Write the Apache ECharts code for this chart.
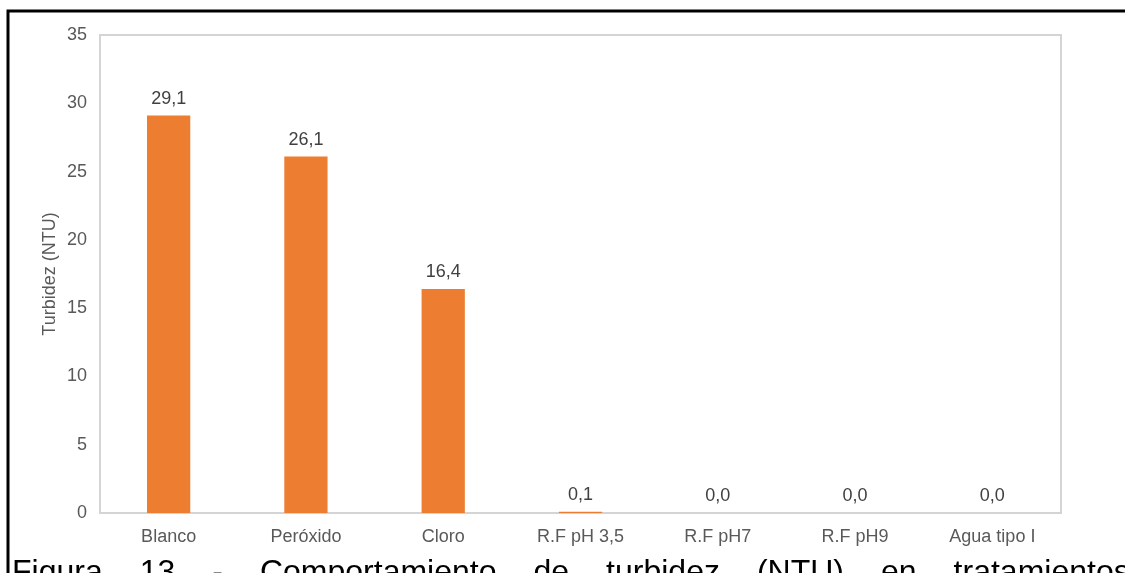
<!DOCTYPE html>
<html>
<head>
<meta charset="utf-8">
<script src="https://cdn.jsdelivr.net/npm/echarts@6/dist/echarts.min.js"></script>
<style>
  html, body { margin: 0; padding: 0; background: #fff; }
  #chart { width: 1125px; height: 573px; }
</style>
</head>
<body>
<div id="chart"></div>
<script>
// Turbidez por tratamiento
const categories = ['Blanco', 'Peróxido', 'Cloro', 'R.F pH 3,5', 'R.F pH7', 'R.F pH9', 'Agua tipo I'];
const turbidez = [29.1, 26.1, 16.4, 0.1, 0.0, 0.0, 0.0];
const yTicks = { min: 0, max: 35, interval: 5 };
const captionWords = ['Figura', '13', '-', 'Comportamiento', 'de', 'turbidez', '(NTU)', 'en', 'tratamientos'];

const FONT = '"Liberation Sans", Arial, sans-serif';
const chart = echarts.init(document.getElementById('chart'), null, { renderer: 'canvas' });

// Caption line below the chart, words laid out with wide justified spacing
const CAPTION_FONT = '32px ' + FONT;
const captionLeft = 12, wordGap = 37;
const ctx = document.createElement('canvas').getContext('2d');
ctx.font = CAPTION_FONT;
let cx = captionLeft;
const captionEls = captionWords.map(w => {
  const el = {
    type: 'text', left: cx, top: 557,
    style: { text: w, font: CAPTION_FONT, fill: '#000' }
  };
  cx += ctx.measureText(w).width + wordGap;
  return el;
});

chart.setOption({
  animation: false,
  grid: {
    left: 100, right: 64, top: 35, bottom: 60,
    show: true, borderColor: '#d4d4d4', borderWidth: 2, backgroundColor: 'transparent'
  },
  xAxis: {
    type: 'category',
    data: categories,
    axisLine: { show: true, lineStyle: { color: '#d4d4d4', width: 2 } },
    axisTick: { show: false },
    axisLabel: { color: '#595959', fontSize: 18, fontFamily: FONT, margin: 15, interval: 0 }
  },
  yAxis: {
    type: 'value',
    min: yTicks.min, max: yTicks.max, interval: yTicks.interval,
    name: 'Turbidez (NTU)',
    nameLocation: 'middle',
    nameGap: 41,
    nameMoveOverlap: false,
    nameTextStyle: { color: '#595959', fontSize: 18, fontFamily: FONT },
    axisLine: { show: false },
    axisTick: { show: false },
    splitLine: { show: false },
    axisLabel: { color: '#595959', fontSize: 18, fontFamily: FONT, margin: 13 }
  },
  series: [{
    type: 'bar',
    data: turbidez,
    barWidth: '31.5%',
    itemStyle: { color: '#ED7D31' },
    label: {
      show: true,
      position: 'top',
      distance: 8,
      color: '#404040',
      fontSize: 18,
      fontFamily: FONT,
      formatter: p => p.value.toFixed(1).replace('.', ',')
    }
  }],
  graphic: [
    {
      type: 'rect', silent: true,
      shape: { x: 8, y: 11, width: 1300, height: 800 },
      style: { fill: 'none', stroke: '#000', lineWidth: 3 }
    },
    ...captionEls
  ]
});
</script>
</body>
</html>
